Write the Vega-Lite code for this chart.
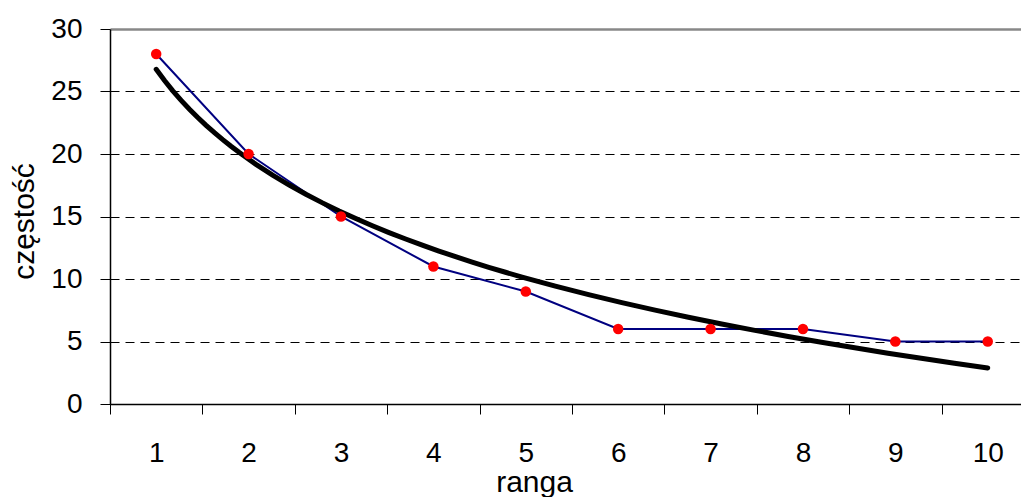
{
  "$schema": "https://vega.github.io/schema/vega-lite/v6.json",
  "width": 911,
  "height": 375,
  "autosize": "none",
  "padding": {"left": 110, "top": 29, "right": 0, "bottom": 93},
  "background": "white",
  "config": {
    "view": {"stroke": null},
    "font": "Liberation Sans",
    "axis": {"labelFont": "Liberation Sans", "titleFont": "Liberation Sans", "labelColor": "black", "titleColor": "black", "titleFontWeight": "normal"}
  },
  "data": {
    "values": [
      {"ranga": 1, "czestosc": 28},
      {"ranga": 2, "czestosc": 20},
      {"ranga": 3, "czestosc": 15},
      {"ranga": 4, "czestosc": 11},
      {"ranga": 5, "czestosc": 9},
      {"ranga": 6, "czestosc": 6},
      {"ranga": 7, "czestosc": 6},
      {"ranga": 8, "czestosc": 6},
      {"ranga": 9, "czestosc": 5},
      {"ranga": 10, "czestosc": 5}
    ]
  },
  "encoding": {
    "x": {
      "field": "ranga",
      "type": "quantitative",
      "scale": {"domain": [0.5, 10.36], "nice": false, "zero": false},
      "axis": {
        "title": "ranga",
        "values": [0.5, 1, 1.5, 2, 2.5, 3, 3.5, 4, 4.5, 5, 5.5, 6, 6.5, 7, 7.5, 8, 8.5, 9, 9.5, 10],
        "labelExpr": "datum.value % 1 === 0 ? toString(datum.value) : ''",
        "tickOpacity": {"condition": {"test": "datum.value % 1 === 0", "value": 0}, "value": 1},
        "tickSize": 10,
        "tickColor": "black",
        "tickWidth": 1,
        "domainColor": "black",
        "domainWidth": 1.5,
        "grid": false,
        "labelFontSize": 28,
        "labelPadding": 47,
        "labelBaseline": "alphabetic",
        "labelFlush": false,
        "labelOverlap": false,
        "titleFontSize": 30,
        "titleX": 424,
        "titleY": 87,
        "titleBaseline": "alphabetic",
        "titleAlign": "center"
      }
    },
    "y": {
      "field": "czestosc",
      "type": "quantitative",
      "scale": {"domain": [0, 30], "nice": false},
      "axis": {
        "title": "częstość",
        "values": [0, 5, 10, 15, 20, 25, 30],
        "grid": true,
        "gridColor": {"condition": {"test": "datum.value === 30", "value": "#888888"}, "value": "black"},
        "gridWidth": {"condition": {"test": "datum.value === 30", "value": 2.5}, "value": 1},
        "gridDash": {"condition": {"test": "datum.value === 30", "value": []}, "value": [9, 6]},
        "tickSize": 10,
        "tickColor": "black",
        "domainColor": "black",
        "domainWidth": 1.5,
        "labelFontSize": 28,
        "labelPadding": 18,
        "labelBaseline": "middle",
        "labelFlush": false,
        "titleFontSize": 30,
        "titleAngle": 270,
        "titleX": -77,
        "titleY": 192,
        "titleAlign": "center",
        "titleBaseline": "alphabetic"
      }
    }
  },
  "layer": [
    {
      "mark": {"type": "line", "color": "#000080", "strokeWidth": 2}
    },
    {
      "transform": [{"regression": "czestosc", "on": "ranga", "method": "log"}],
      "mark": {"type": "line", "color": "black", "strokeWidth": 5, "strokeCap": "round"}
    },
    {
      "mark": {"type": "point", "filled": true, "color": "#ff0000", "opacity": 1, "size": 110}
    }
  ]
}
